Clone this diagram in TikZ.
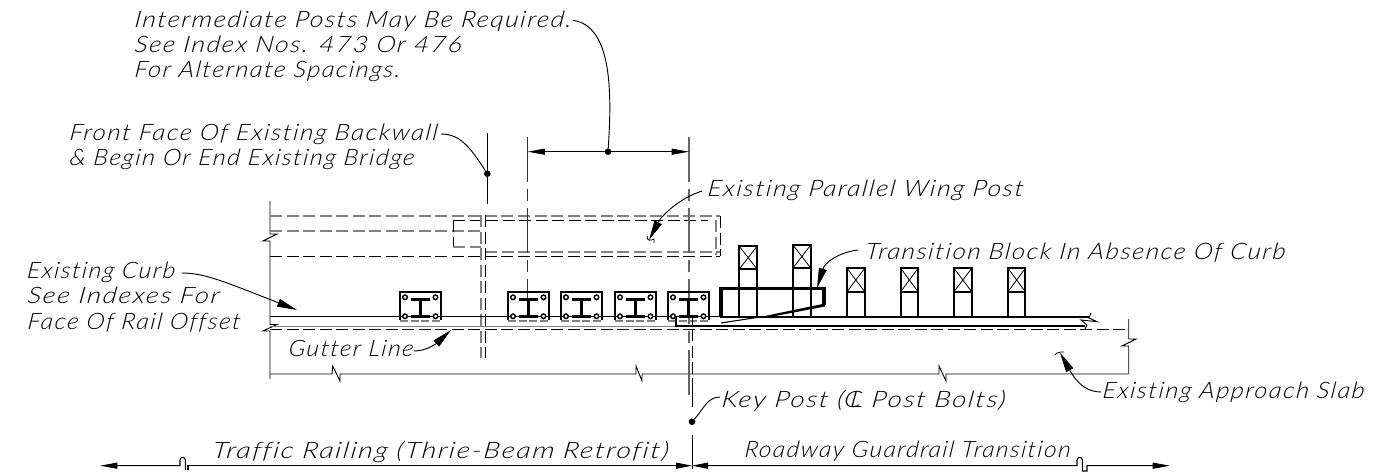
\documentclass[tikz,border=0pt]{standalone}
\usepackage{fontspec}
\usepackage{graphicx}
\setmainfont{Lato}[UprightFont=* Light,ItalicFont=* Light Italic,BoldFont=* Light,BoldItalicFont=* Light Italic,Ligatures={NoCommon,NoRequired},LetterSpace=6,FakeSlant=.1]
\usetikzlibrary{arrows.meta}
\newlength\mypx \setlength\mypx{.75pt}
\newcommand\cad[2]{\resizebox{#1\mypx}{\height}{\fontsize{17pt}{20pt}\selectfont\itshape #2}}
\newcommand\clsym{\rlap{C}\kern.22em L}
\tikzset{
 x=.75pt,y=-.75pt,
 lbl/.style={inner sep=0pt,outer sep=0pt,anchor=base west},
 thinl/.style={line width=.7pt,black},
 grayl/.style={line width=.8pt,black!50},
 dashl/.style={dash pattern=on 9pt off 3.4pt},
 cline/.style={line width=.8pt,dash pattern=on 33.75pt off 5.25pt on 9pt off 5.25pt},
 heavy/.style={line width=1.3pt,black},
 vheavy/.style={line width=2.7pt,black,line join=miter},
 leader/.style={line width=.7pt,black},
 ptr/.style={-{Triangle[length=15pt,width=6pt]}},
 dotn/.style={circle,fill=black,inner sep=0pt,minimum size=5pt},
 dims/.style={line width=.8pt,black},
}
\newcommand\plate[1]{%
 \begin{scope}[shift={(#1,0)}]
 \draw[heavy] (0,320.5)--(0,292)--(41,292)--(41,320.5);
 \draw[grayl,dash pattern=on 6pt off 2pt] (0,321)--(41,321);
 \draw[line width=2.2pt] (11,299.5)--(30,299.5) (20.3,299.5)--(20.3,316.3) (11,316.3)--(30,316.3);
 \foreach \bx/\by in {5/297.3,35.5/297.3,5/316.3,35.5/316.3}
   \draw[line width=1.1pt,fill=white] (\bx,\by) circle[radius=1.7pt];
 \end{scope}}
\newcommand\postbox[4]{% x1 x2 ytop ybox
 \draw[heavy] (#1,316.7)--(#1,#3)--(#2,#3)--(#2,316.7);
 \draw[heavy] (#1,#4)--(#2,#4);
 \draw[line width=.6pt] (#1,#3)--(#2,#4) (#2,#3)--(#1,#4);}
\begin{document}
\begin{tikzpicture}
\useasboundingbox (0,0) rectangle (1373,473);
\fill[white] (0,0) rectangle (1373,473);
% labels
\node[lbl] (t1) at (134,27.3) {\cad{437}{Intermediate Posts May Be Required.}};
\node[lbl] (t1b) at (134,52.5) {\cad{327}{See Index Nos. 473 Or 476}};
\node[lbl] (t1c) at (134,78) {\cad{266}{For Alternate Spacings.}};
\node[lbl] (t2) at (69,141) {\cad{368}{Front Face Of Existing Backwall}};
\node[lbl] (t2b) at (69,166) {\cad{345}{\& Begin Or End Existing Bridge}};
\node[lbl] (t3) at (707,197) {\cad{316}{Existing Parallel Wing Post}};
\node[lbl] (t4) at (865,260) {\cad{420}{Transition Block In Absence Of Curb}};
\node[lbl] (t5) at (26.7,279) {\cad{148}{Existing Curb}};
\node[lbl] (t5b) at (27,304) {\cad{192}{See Indexes For}};
\node[lbl] (t5c) at (27,330) {\cad{213}{Face Of Rail Offset}};
\node[lbl] (t6) at (288,357) {\cad{125}{Gutter Line}};
\node[lbl] (t7) at (721,407) {\cad{284}{Key Post (\clsym\ Post Bolts)}};
\node[lbl] (t8) at (1102,399) {\cad{262}{Existing Approach Slab}};
\node[lbl] (t9) at (212,458) {\cad{456}{Traffic Railing (Thrie-Beam Retrofit)}};
\node[lbl] (t10) at (744,458) {\cad{326}{Roadway Guardrail Transition}};
% outer lines
\draw[thinl] (270,201)--(270,234)--(277,234)--(263,241)--(270,241)--(270,324.5)--(277,324.5)--(263,331)--(270,331)--(270,379);
\draw[thinl] (1128.7,319)--(1128.7,339)--(1136,339)--(1122,346)--(1128.7,346)--(1128.7,374);
\draw[thinl] (270,374)--(332,374)--(332.7,366)--(340,381)--(340,374)--(636,374)--(636,366)--(642,381)--(642,374)--(939,374)--(939,366)--(946,381)--(946,374)--(1128.7,374);
% hidden rail dashes
\draw[grayl,dashl] (270,216)--(720,216) (270,231)--(481,231) (485,252)--(720,252);
\draw[thinl,dashl] (270,256)--(720,256) (453,220)--(708,220) (453,220)--(453,247);
\draw[grayl,dashl] (453,247)--(481,247) (716,220)--(716,255);
\draw[thinl,dashl] (720,216)--(720,256);
\draw[grayl,dashl] (481,215)--(481,358);
\draw[thinl,dashl] (485,215)--(485,358);
% centre lines
\draw[cline,black!80] (527.5,137)--(527.5,317);
\draw[cline,black!60] (689,137)--(689,395);
\draw[thinl] (487.3,133)--(487.3,204);
\node[dotn] (d2) at (487.3,173.7) {};
\draw[dims,{Triangle[length=13pt,width=4.5pt]}-{Triangle[length=13pt,width=4.5pt]}] (527.5,151.7)--(689,151.7);
\node[dotn] (d1) at (608,151.7) {};
\draw[leader] ([shift={(2,-7)}]t1.base east) .. controls (612,26) and (612,92) .. (d1);
\draw[leader] ([shift={(4,-7)}]t2.base east) .. controls (460,134) and (470,147) .. (d2);
% curb
\draw[thinl] (270,316.7)--(720,316.7);
\draw[grayl] (270,326.3)--(676,326.3);
\draw[thinl,dashl] (270,329.3)--(1127,329.3);
% plates
\plate{400}\plate{508}\plate{561}\plate{615}\plate{668}
% transition
\draw[heavy] (720,316.7)--(1090,316.7);
\draw[heavy] (675.7,316.7)--(675.7,326.3)--(1085,326.3);
\draw[thinl] (692,316.7)--(692,326.3);
\draw[thinl] (1091,313)--(1089,318)--(1097,321.7)--(1081,320)--(1087,325)--(1085,329);
\postbox{739.3}{757}{246.3}{269}
\postbox{793}{810.7}{245}{268}
\postbox{847}{864.7}{268.3}{291.7}
\postbox{900.7}{918}{268.3}{291.7}
\postbox{954}{971.7}{268.3}{291.7}
\postbox{1008}{1025.3}{268.3}{291.7}
\draw[vheavy] (721,317)--(721,288.5)--(824,288.5)--(824,305);
\draw[line width=.8pt] (721,323)--(760,317);
\fill (760,317)--(825,303.5)--(825,306.5)--(770,317)--cycle;
% lower centre
\draw[thinl,dashl] (692,329)--(692,378);
\draw[thinl] (692,378)--(692,407);
\node[dotn] (d3) at (692,421.7) {};
\draw[thinl] (692,435)--(692,469);
% leaders with arrows
\coordinate (curbtip) at (297,310);
\draw[leader,ptr] ([shift={(7,-6)}]t5.base east) .. controls (205,273) and (225,282) .. (curbtip);
\coordinate (guttip) at (451,330);
\draw[leader,ptr] ([shift={(1,-6)}]t6.base east) .. controls (428,351) and (438,342) .. (guttip);
\coordinate (wingtip) at (649,240);
\draw[leader,ptr] ([shift={(-5,-6)}]t3.base west) .. controls (680,198) and (662,215) .. (wingtip);
\coordinate (wt1) at (647,236); \coordinate (wt2) at (654,239);
\draw[line width=.6pt] (wt1) .. controls (647,241) and (650,241) .. (wt2) -- (654,243);
\coordinate (transtip) at (817,288);
\draw[leader,ptr] ([shift={(-7,-10)}]t4.base west) .. controls (840,252) and (825,262) .. (transtip);
\coordinate (slabtip) at (1060,352.7);
\draw[leader,ptr] ([shift={(-1,-7)}]t8.base west) .. controls (1088,392) and (1078,385) .. (slabtip);
\coordinate (st1) at (1055,355); \coordinate (st2) at (1064,352);
\draw[line width=.6pt] (st1) .. controls (1057,352) and (1060,352) .. (st2);
\draw[leader] ([shift={(-1,-10)}]t7.base west) .. controls (707,397) and (703,410) .. (d3);
% bottom dimension
\draw[dims,{Triangle[length=13pt,width=4.5pt]}-] (100,465.7)--(180,465.7)--(180,460) arc[start angle=180,end angle=0,radius=2pt]--(185.3,470);
\coordinate (bl2) at (188,470);
\draw[dims,-{Triangle[length=12pt,width=4.5pt]}] (bl2)--(188,465.7)--(692,465.7);
\coordinate (br2) at (1087,471);
\draw[dims,{Triangle[length=12pt,width=4.5pt]}-{Triangle[length=13pt,width=4.5pt]}] (692,465.7)--(1077,465.7)--(1077,460) arc[start angle=180,end angle=0,radius=2pt]--(1082.3,471)--(br2)--(1087,465.7)--(1170,465.7);
\end{tikzpicture}
\end{document}
